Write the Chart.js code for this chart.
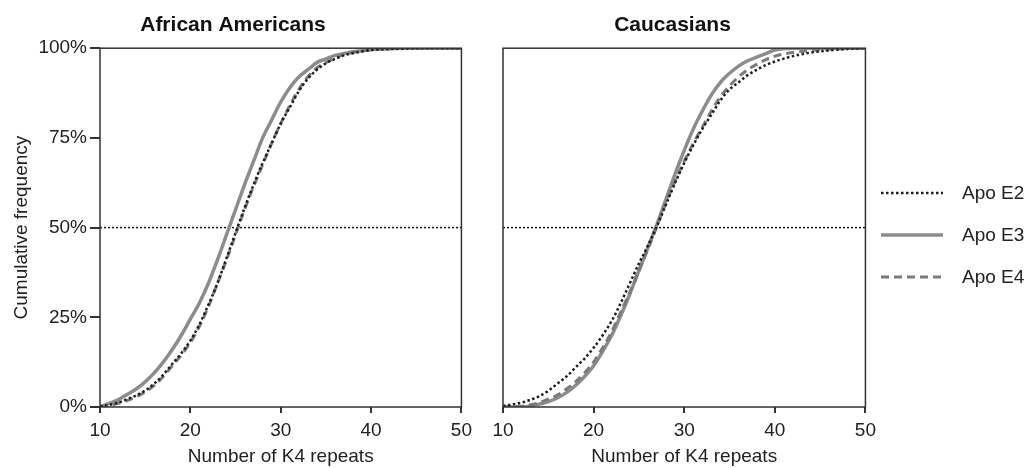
<!DOCTYPE html>
<html lang="en">
<head>
  <meta charset="UTF-8">
  <title>Cumulative frequency of K4 repeats by Apo E genotype</title>
  <script src="https://cdn.jsdelivr.net/npm/chart.js"></script>
  <style>
    body {
      margin: 0;
      background: #fff;
      font-family: 'Liberation Sans', Arial, sans-serif;
    }
    #wrap {
      position: relative;
      width: 1029px;
      height: 468px;
      overflow: hidden;
    }
    canvas {
      position: absolute;
      top: 0;
    }
    #legend {
      position: absolute;
      left: 881px;
      top: 0;
    }
    .item {
      position: absolute;
      left: 0;
      height: 24px;
      width: 150px;
      font-size: 19px;
      color: #222;
      line-height: 24px;
      white-space: nowrap;
    }
    .item svg {
      position: absolute;
      left: 0;
      top: 0;
    }
    .item span {
      position: absolute;
      left: 81px;
      top: 0;
    }
  </style>
</head>
<body>
  <div id="wrap">
    <canvas id="leftChart" width="478" height="468" style="left:0"></canvas>
    <canvas id="rightChart" width="407" height="468" style="left:475px"></canvas>
    <div id="legend"></div>
  </div>

  <script>
    // x positions (number of K4 repeats) shared by every curve
    const repeats = [10, 11, 12, 13, 14, 15, 16, 17, 18, 19, 20, 21, 22, 23, 24, 25, 26, 27, 28, 29,
                     30, 31, 32, 33, 34, 35, 36, 37, 38, 39, 40, 42, 44, 46, 48, 50];

    // African Americans, cumulative %
    const aaE2 = [0.2, 0.6, 1.2, 2.2, 3.2, 4.6, 6.5, 9, 12, 15, 18.5, 23, 28.5, 34.5, 41.5, 48.5, 55.5, 62, 68, 73.5,
                  79, 83.5, 88, 91.5, 94, 95.8, 97, 98, 98.6, 99.1, 99.5, 99.8, 99.9, 100, 100, 100];
    const aaE3 = [0, 1, 2, 3.5, 5, 7, 9.5, 12.5, 16, 20, 24.5, 29, 34.5, 41, 48, 55, 62, 68.5, 75, 80,
                  85, 89, 92, 94, 96, 97, 98, 98.5, 99, 99.3, 99.6, 99.8, 100, 100, 100, 100];
    const aaE4 = [0, 0.4, 1, 1.8, 2.8, 4.2, 6, 8.5, 11.5, 14.5, 18, 22.5, 28, 34.5, 41, 48, 55, 61.5, 67.5, 73.5,
                  79, 84, 88.5, 92, 94.5, 96, 97.2, 98.2, 98.8, 99.3, 99.6, 99.9, 100, 100, 100, 100];

    // Caucasians, cumulative %
    const caE2 = [0.3, 0.7, 1.2, 2, 3, 4.5, 6.5, 8.5, 11, 13.5, 16.5, 20, 24, 29, 34.5, 40, 45, 50.5, 56.5, 62.5,
                  68, 73, 77.5, 81.5, 85.5, 88.5, 90.5, 92.5, 94, 95.3, 96.3, 97.8, 98.8, 99.4, 99.8, 100];
    const caE3 = [0, 0, 0, 0.2, 0.8, 1.5, 2.5, 4, 6, 8.5, 11.5, 15.5, 20, 25.5, 31.5, 38, 44.5, 51, 58, 65,
                  71.5, 77.5, 82.5, 87, 90.5, 93, 95, 96.5, 97.5, 98.5, 99.5, 100, 100, 100, 100, 100];
    const caE4 = [0, 0.1, 0.2, 0.6, 1.2, 2.2, 3.3, 5, 7, 9.5, 12.5, 16.5, 21, 26.5, 32, 38, 44, 50.5, 57, 63,
                  68.5, 73.5, 78, 82.5, 86.5, 89.5, 92, 94, 95.5, 96.8, 97.8, 98.8, 99.4, 99.7, 99.9, 100];

    const xTicks = [10, 20, 30, 40, 50];
    const yTicks = [0, 25, 50, 75, 100];
    const midLine = 50;
    const seriesNames = ['Apo E2', 'Apo E3', 'Apo E4'];

    Chart.defaults.font.family = "'Liberation Sans', Arial, sans-serif";
    Chart.defaults.color = '#222';

    const styles = {
      'Apo E2': { borderColor: '#1e1e1e', borderWidth: 2.5, borderDash: [2.5, 2.5] },
      'Apo E3': { borderColor: '#8c8c8c', borderWidth: 3.5, borderDash: [] },
      'Apo E4': { borderColor: '#7a7a7a', borderWidth: 3, borderDash: [8, 5] }
    };

    const toPoints = ys => repeats.map((x, i) => ({ x: x, y: ys[i] }));

    // box around the plot area
    const framePlugin = {
      id: 'frame',
      afterDatasetsDraw(chart) {
        const { ctx, chartArea: a } = chart;
        ctx.save();
        ctx.strokeStyle = '#333';
        ctx.lineWidth = 1.5;
        ctx.strokeRect(a.left, a.top, a.right - a.left, a.bottom - a.top);
        ctx.restore();
      }
    };

    function makeChart(id, title, e2, e3, e4, yWidth, showY) {
      const curves = [[seriesNames[0], e2], [seriesNames[2], e4], [seriesNames[1], e3]];
      const datasets = curves.map(([name, ys]) => Object.assign({
        label: name,
        data: toPoints(ys),
        pointRadius: 0,
        fill: false,
        cubicInterpolationMode: 'monotone',
        borderCapStyle: 'butt'
      }, styles[name]));
      datasets.push({
        label: '50%',
        data: [{ x: xTicks[0], y: midLine }, { x: xTicks[xTicks.length - 1], y: midLine }],
        borderColor: '#111',
        borderWidth: 1.5,
        borderDash: [2, 2],
        pointRadius: 0
      });

      return new Chart(document.getElementById(id), {
        type: 'line',
        data: { datasets: datasets },
        plugins: [framePlugin],
        options: {
          responsive: false,
          animation: false,
          layout: { padding: { right: 12 } },
          plugins: {
            legend: { display: false },
            tooltip: { enabled: false },
            title: {
              display: true,
              text: title,
              color: '#111',
              font: { size: 21, weight: 'bold', lineHeight: 1.2 },
              padding: { top: 13, bottom: 10 }
            }
          },
          scales: {
            x: {
              type: 'linear',
              min: 10,
              max: 50,
              afterBuildTicks: s => { s.ticks = xTicks.map(v => ({ value: v })); },
              afterFit: s => { s.height = 61; },
              ticks: { font: { size: 19, lineHeight: 1.2 }, padding: 6, maxRotation: 0 },
              grid: { drawOnChartArea: false, drawTicks: true, tickLength: 6, color: '#333', lineWidth: 2 },
              border: { display: false },
              title: {
                display: true,
                text: 'Number of K4 repeats',
                font: { size: 19, lineHeight: 1.2 },
                padding: { top: 0, bottom: 0 }
              }
            },
            y: {
              min: 0,
              max: 100,
              afterBuildTicks: s => { s.ticks = yTicks.map(v => ({ value: v })); },
              afterFit: s => { s.width = yWidth; },
              ticks: {
                display: showY,
                font: { size: 19, lineHeight: 1.2 },
                padding: 3,
                callback: v => v + '%'
              },
              grid: { display: showY, drawOnChartArea: false, drawTicks: true, tickLength: 10, color: '#333', lineWidth: 2 },
              border: { display: false },
              title: {
                display: showY,
                text: 'Cumulative frequency',
                font: { size: 19, lineHeight: 1.2 },
                padding: { top: 10, bottom: 0 }
              }
            }
          }
        }
      });
    }

    makeChart('leftChart', 'African Americans', aaE2, aaE3, aaE4, 100, true);
    makeChart('rightChart', 'Caucasians', caE2, caE3, caE4, 28, false);

    // legend
    const legendRows = [193, 235, 277];
    const legend = document.getElementById('legend');
    seriesNames.forEach((name, i) => {
      const st = styles[name];
      const item = document.createElement('div');
      item.className = 'item';
      item.style.top = (legendRows[i] - 12) + 'px';
      item.innerHTML =
        '<svg width="64" height="24"><line x1="0" y1="12" x2="62" y2="12" stroke="' + st.borderColor +
        '" stroke-width="' + st.borderWidth + '" stroke-dasharray="' + (st.borderDash.join(',') || 'none') +
        '"/></svg><span>' + name + '</span>';
      legend.appendChild(item);
    });
  </script>
</body>
</html>
